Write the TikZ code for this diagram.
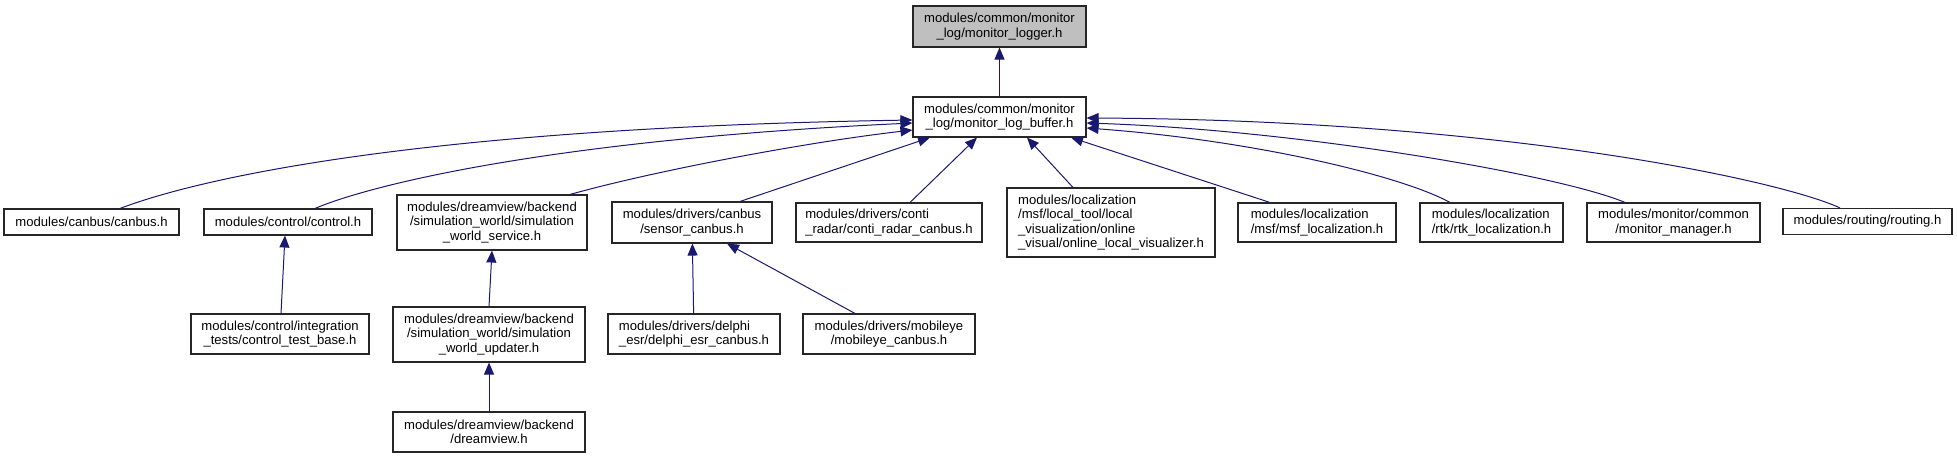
\documentclass[tikz,border=0pt]{standalone}
\usepackage{fontspec}
\setmainfont{Liberation Sans}
\usetikzlibrary{arrows.meta}
\begin{document}
\begin{tikzpicture}[x=1pt, y=-1pt,
  font=\fontsize{13.1}{14.3}\selectfont,
  file/.style={draw=black!85, line width=1.1pt, inner sep=0pt, align=center},
  filel/.style={file, align=left},
  dep/.style={draw=navy, line width=1pt, {Triangle[length=12pt,width=10pt]}-}]
\definecolor{navy}{HTML}{191970}
\definecolor{hdr}{HTML}{BFBFBF}
\useasboundingbox (0,0) rectangle (1957,459);
\node[file, fill=hdr, minimum width=173pt, minimum height=41pt] (logger) at (999.5,26.5) {modules/common/monitor\\\_log/monitor\_logger.h};
\node[file, minimum width=173pt, minimum height=40pt] (buffer) at (999.5,117) {modules/common/monitor\\\_log/monitor\_log\_buffer.h};
\node[file, minimum width=175pt, minimum height=26pt] (canbus) at (91.5,222) {modules/canbus/canbus.h};
\node[file, minimum width=168pt, minimum height=26pt] (control) at (288,222) {modules/control/control.h};
\node[file, minimum width=190pt, minimum height=55pt] (simservice) at (492,222.5) {modules/dreamview/backend\\/simulation\_world/simulation\\\_world\_service.h};
\node[file, minimum width=160pt, minimum height=41pt] (sensor) at (692,222.5) {modules/drivers/canbus\\/sensor\_canbus.h};
\node[filel, minimum width=186pt, minimum height=39pt] (conti) at (889,222.5) {modules/drivers/conti\\\_radar/conti\_radar\_canbus.h};
\node[filel, minimum width=208pt, minimum height=69pt] (visualizer) at (1111,222.5) {modules/localization\\/msf/local\_tool/local\\\_visualization/online\\\_visual/online\_local\_visualizer.h};
\node[filel, minimum width=158pt, minimum height=39pt] (msf) at (1317,222.5) {modules/localization\\/msf/msf\_localization.h};
\node[filel, minimum width=143pt, minimum height=39pt] (rtk) at (1491.5,222.5) {modules/localization\\/rtk/rtk\_localization.h};
\node[file, minimum width=173pt, minimum height=39pt] (monmgr) at (1673.5,222.5) {modules/monitor/common\\/monitor\_manager.h};
\node[file, minimum width=169pt, minimum height=26pt] (routing) at (1867.5,221.5) {modules/routing/routing.h};
\node[file, minimum width=178pt, minimum height=40pt] (ctrltest) at (280,334) {modules/control/integration\\\_tests/control\_test\_base.h};
\node[file, minimum width=192pt, minimum height=55pt] (updater) at (489,334.5) {modules/dreamview/backend\\/simulation\_world/simulation\\\_world\_updater.h};
\node[filel, minimum width=172pt, minimum height=40pt] (delphi) at (694,334) {modules/drivers/delphi\\\_esr/delphi\_esr\_canbus.h};
\node[file, minimum width=172pt, minimum height=40pt] (mobileye) at (889,334) {modules/drivers/mobileye\\/mobileye\_canbus.h};
\node[file, minimum width=192pt, minimum height=40pt] (dreamview) at (489,432) {modules/dreamview/backend\\/dreamview.h};
\draw[dep] (logger) -- (buffer);
\draw[dep] ([yshift=-3pt]buffer.west) .. controls (420,128) and (200,178) .. ([xshift=28.5pt]canbus.north);
\draw[dep] ([yshift=-6pt]buffer.west) .. controls (550,140) and (370,185) .. ([xshift=27pt]control.north);
\draw[dep] ([yshift=-13pt]buffer.west) .. controls (800,143) and (650,172) .. ([xshift=78pt]simservice.north);
\draw[dep] ([xshift=-69.5pt]buffer.south) -- ([xshift=48pt]sensor.north);
\draw[dep] ([xshift=-22.5pt]buffer.south) -- ([xshift=21pt]conti.north);
\draw[dep] ([xshift=27.5pt]buffer.south) -- ([xshift=-38pt]visualizer.north);
\draw[dep] ([xshift=71.5pt]buffer.south) -- ([xshift=-47pt]msf.north);
\draw[dep] ([yshift=-11pt]buffer.east) .. controls (1250,140) and (1400,175) .. ([xshift=-41.5pt]rtk.north);
\draw[dep] ([yshift=-6pt]buffer.east) .. controls (1300,130) and (1560,175) .. ([xshift=-48.5pt]monmgr.north);
\draw[dep] ([yshift=-1pt]buffer.east) .. controls (1500,120) and (1780,180) .. ([xshift=-27.5pt]routing.north);
\draw[dep] ([xshift=-3pt]control.south) -- ([xshift=1pt]ctrltest.north);
\draw[dep] (simservice.south) -- (updater.north);
\draw[dep] (updater) -- (dreamview);
\draw[dep] (sensor) -- (delphi);
\draw[dep] ([xshift=35pt]sensor.south) -- ([xshift=-34pt]mobileye.north);
\end{tikzpicture}
\end{document}
